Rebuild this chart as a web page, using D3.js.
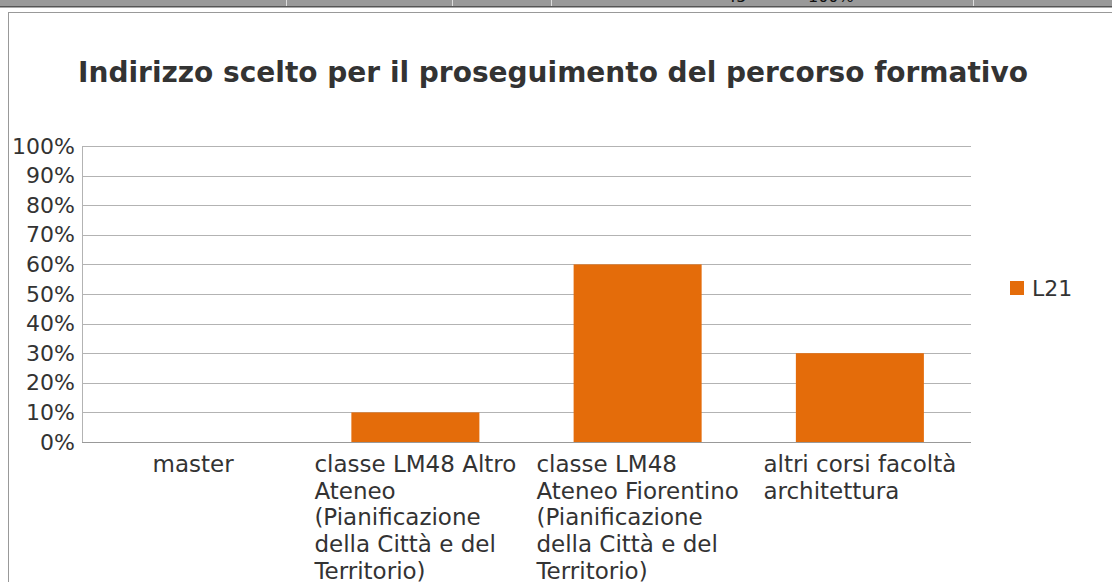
<!DOCTYPE html>
<html>
<head>
<meta charset="utf-8">
<script src="https://cdn.jsdelivr.net/npm/d3@7/dist/d3.min.js"></script>
<style>
  body { margin: 0; background: #fff; }
  text { font-family: "DejaVu Sans", sans-serif; fill: #333; }
</style>
</head>
<body>
<div id="chart"></div>
<script>
// Chart data
var title = "Indirizzo scelto per il proseguimento del percorso formativo";
var categories = [
  "master",
  "classe LM48 Altro\nAteneo\n(Pianificazione\ndella Città e del\nTerritorio)",
  "classe LM48\nAteneo Fiorentino\n(Pianificazione\ndella Città e del\nTerritorio)",
  "altri corsi facoltà\narchitettura"
];
var seriesName = "L21";
var values = [0, 0.10, 0.60, 0.30];
var yTicks = [0, 0.1, 0.2, 0.3, 0.4, 0.5, 0.6, 0.7, 0.8, 0.9, 1.0];

// Spreadsheet strip above the chart (cut off)
var stripCols = [286, 452, 551, 973];
var stripTexts = [{x: 726, t: "45"}, {x: 808, t: "100%"}];

var W = 1112, H = 582;
var margin = {top: 146, right: 141, bottom: 140, left: 82};

var svg = d3.select("#chart")
  .append("svg")
  .attr("width", W)
  .attr("height", H);

// top strip
svg.append("rect").attr("x", 0).attr("y", 0).attr("width", W).attr("height", 7).attr("fill", "#999");
svg.append("rect").attr("x", 0).attr("y", 6).attr("width", W).attr("height", 1.5).attr("fill", "#555");
svg.selectAll(".col").data(stripCols).enter()
  .append("line")
  .attr("x1", function(d) { return d + 0.5; })
  .attr("x2", function(d) { return d + 0.5; })
  .attr("y1", 0).attr("y2", 6)
  .attr("stroke", "#ddd");
svg.selectAll(".stxt").data(stripTexts).enter()
  .append("text")
  .attr("x", function(d) { return d.x; })
  .attr("y", 2)
  .style("font-size", "16px")
  .style("fill", "#111")
  .text(function(d) { return d.t; });

// chart frame
svg.append("rect")
  .attr("x", 8.5).attr("y", 12.5)
  .attr("width", W + 20).attr("height", H + 20)
  .attr("fill", "none")
  .attr("stroke", "#999");

// title
svg.append("text")
  .attr("x", 553)
  .attr("y", 82)
  .attr("text-anchor", "middle")
  .style("font-size", "28px")
  .style("font-weight", "bold")
  .text(title);

var x = d3.scaleBand()
  .domain(d3.range(categories.length))
  .range([margin.left, W - margin.right])
  .paddingInner(0.424)
  .paddingOuter(0.212);

var y = d3.scaleLinear()
  .domain([0, 1])
  .range([H - margin.bottom, margin.top]);

// gridlines
svg.append("g")
  .selectAll("line")
  .data(yTicks)
  .enter()
  .append("line")
  .attr("x1", margin.left)
  .attr("x2", W - margin.right)
  .attr("y1", function(d) { return Math.round(y(d)) + 0.5; })
  .attr("y2", function(d) { return Math.round(y(d)) + 0.5; })
  .attr("stroke", "#b3b3b3");

// bars
svg.append("g")
  .selectAll("rect")
  .data(values)
  .enter()
  .append("rect")
  .attr("x", function(d, i) { return x(i); })
  .attr("y", function(d) { return y(d); })
  .attr("width", x.bandwidth())
  .attr("height", function(d) { return y(0) - y(d); })
  .attr("fill", "#e46c0a");

// y axis
var yAxis = svg.append("g")
  .attr("transform", "translate(" + margin.left + ",0)")
  .call(d3.axisLeft(y).tickValues(yTicks).tickSize(0).tickPadding(7).tickFormat(d3.format(".0%")));
yAxis.select(".domain").attr("stroke", "#b3b3b3");
yAxis.selectAll("text").style("font-size", "22px").style("fill", "#333").attr("font-family", null);

// x axis baseline
svg.append("line")
  .attr("x1", margin.left).attr("x2", W - margin.right)
  .attr("y1", Math.round(y(0)) + 0.5).attr("y2", Math.round(y(0)) + 0.5)
  .attr("stroke", "#999");

// category labels: left-aligned lines in a centered block
categories.forEach(function(c, i) {
  var lines = c.split("\n");
  var cx = x(i) + x.bandwidth() / 2;
  var g = svg.append("g");
  var t = g.selectAll("text").data(lines).enter()
    .append("text")
    .attr("y", function(d, k) { return 472 + k * 26.7; })
    .style("font-size", "23px")
    .text(function(d) { return d; });
  var maxW = 0;
  t.each(function() { maxW = Math.max(maxW, this.getComputedTextLength()); });
  t.attr("x", cx - maxW / 2);
});

// legend
var legend = svg.append("g").attr("transform", "translate(1010,281)");
legend.append("rect").attr("width", 14).attr("height", 14).attr("fill", "#e46c0a");
legend.append("text").attr("x", 22).attr("y", 15).style("font-size", "22px").text(seriesName);
</script>
</body>
</html>
